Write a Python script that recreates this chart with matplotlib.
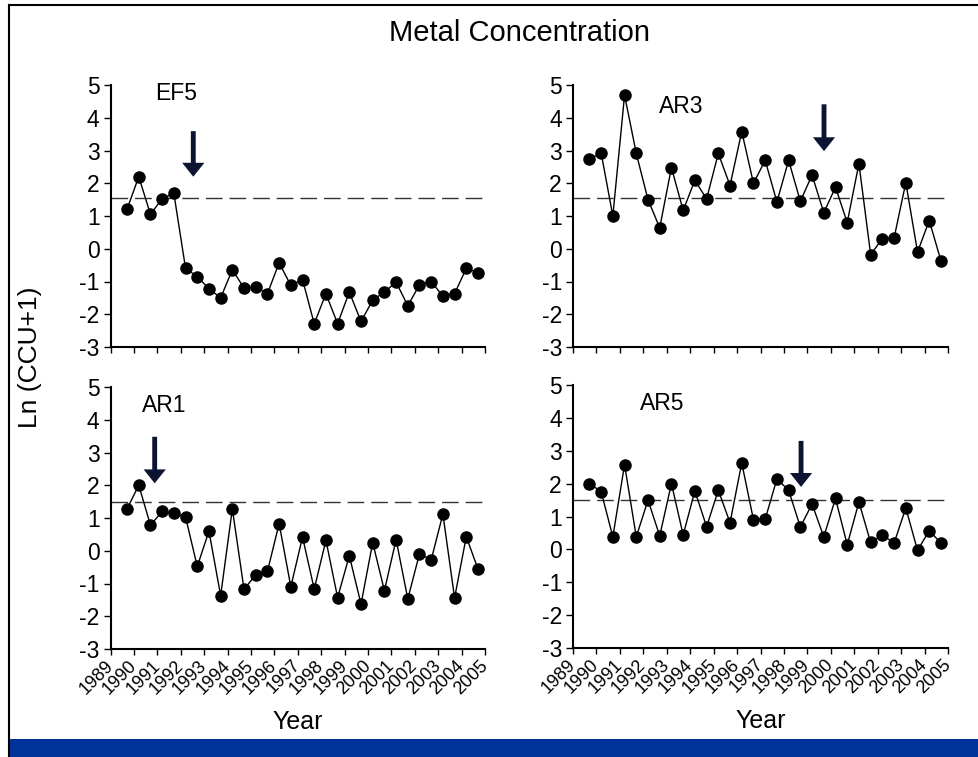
import numpy as np
import matplotlib
matplotlib.use("Agg")
import matplotlib.pyplot as plt
from matplotlib.patches import Rectangle
from matplotlib.lines import Line2D

plt.rcParams['font.family'] = ['Liberation Sans', 'DejaVu Sans']
plt.rcParams['axes.unicode_minus'] = False

# sampling times (two samples per year)
sample_x = [1989.7, 1990.2, 1990.7, 1991.2, 1991.7, 1992.2, 1992.7, 1993.2,
            1993.7, 1994.2, 1994.7, 1995.2, 1995.7, 1996.2, 1996.7, 1997.2,
            1997.7, 1998.2, 1998.7, 1999.2, 1999.7, 2000.2, 2000.7, 2001.2,
            2001.7, 2002.2, 2002.7, 2003.2, 2003.7, 2004.2, 2004.7]
years = list(range(1989, 2006))

ef5 = [1.21, 2.2, 1.05, 1.53, 1.69, -0.6, -0.85, -1.22, -1.5, -0.64, -1.2,
       -1.17, -1.37, -0.43, -1.12, -0.94, -2.29, -1.37, -2.29, -1.32, -2.22,
       -1.57, -1.32, -1.02, -1.74, -1.1, -1.0, -1.45, -1.37, -0.6, -0.73]
ar3 = [2.73, 2.93, 1.0, 4.69, 2.91, 1.5, 0.64, 2.48, 1.17, 2.09, 1.52, 2.91,
       1.93, 3.58, 2.0, 2.7, 1.43, 2.7, 1.45, 2.25, 1.1, 1.88, 0.8, 2.6,
       -0.18, 0.31, 0.33, 2.02, -0.1, 0.86, -0.37]
ar1 = [1.28, 2.0, 0.78, 1.2, 1.15, 1.03, -0.48, 0.6, -1.37, 1.28, -1.18,
       -0.73, -0.63, 0.83, -1.1, 0.42, -1.17, 0.32, -1.43, -0.15, -1.63, 0.25,
       -1.22, 0.34, -1.47, -0.09, -0.28, 1.12, -1.44, 0.43, -0.56]
ar5 = [2.0, 1.76, 0.38, 2.58, 0.38, 1.5, 0.41, 2.0, 0.44, 1.78, 0.69, 1.8,
       0.81, 2.63, 0.9, 0.92, 2.14, 1.8, 0.68, 1.38, 0.38, 1.55, 0.14, 1.44,
       0.21, 0.44, 0.19, 1.26, -0.03, 0.57, 0.19]

sites = ['EF5', 'AR3', 'AR1', 'AR5']
series = [ef5, ar3, ar1, ar5]
thresholds = [1.55, 1.56, 1.48, 1.51]
arrow_x = [1992.53, 1999.71, 1990.88, 1998.73]
arrow_top = [3.59, 4.41, 3.48, 3.3]
arrow_tip = [2.2, 2.98, 2.06, 1.9]

W, H = 979, 757
fig = plt.figure(figsize=(W / 100, H / 100), dpi=100)

# panel boxes in pixels: left, right, top, bottom
boxes = [(110.7, 485, 85, 347), (573, 948, 85, 347),
         (110.7, 485, 387, 649), (573, 948, 385, 648)]
label_pos = [(1990.92, 4.75), (1992.66, 4.34), (1990.32, 4.44), (1991.86, 4.44)]

for i in range(4):
    l, r, t, b = boxes[i]
    ax = fig.add_axes([l / W, 1 - b / H, (r - l) / W, (b - t) / H])
    ax.set_xlim(1989, 2005)
    ax.set_ylim(-3, 5)
    ax.axhline(thresholds[i], color='#333333', lw=1, dashes=(12, 5))
    ax.plot(sample_x, series[i], color='black', lw=1, marker='o',
            markersize=8, markerfacecolor='black', zorder=3, clip_on=False)
    ax.annotate('', xy=(arrow_x[i], arrow_tip[i]),
                xytext=(arrow_x[i], arrow_top[i]),
                arrowprops=dict(width=3.5, headwidth=16, headlength=10,
                                shrink=0, color='#0b1430', lw=0))
    ax.text(label_pos[i][0], label_pos[i][1], sites[i], fontsize=16.5,
            va='center', ha='left')
    for s in ['top', 'right']:
        ax.spines[s].set_visible(False)
    for s in ['left', 'bottom']:
        ax.spines[s].set_linewidth(1.5)
    ax.set_yticks(range(-3, 6))
    ax.set_xticks(years)
    ax.tick_params(axis='y', labelsize=16.5, length=5, width=1, direction='out',
                   pad=3)
    ax.tick_params(axis='x', length=4, width=1, direction='out')
    if i < 2:
        ax.set_xticklabels([])
    else:
        ax.set_xticklabels([str(y) for y in years], rotation=45, ha='right',
                           va='center', rotation_mode='anchor', fontsize=13)
        ax.tick_params(axis='x', pad=6)
        ax.set_xlabel('Year', fontsize=18, labelpad=9)

fig.text(520 / W, 1 - 33 / H, 'Metal Concentration', fontsize=21,
         ha='center', va='center')
fig.text(30 / W, 1 - 357 / H, 'Ln (CCU+1)', fontsize=19, rotation=90,
         ha='center', va='center')

# slide frame and bottom band
fig.add_artist(Line2D([9.3 / W, 1], [1 - 4.5 / H, 1 - 4.5 / H],
                      transform=fig.transFigure, color='black', lw=1.5))
fig.add_artist(Line2D([9.3 / W, 9.3 / W], [1 - 4.5 / H, 0],
                      transform=fig.transFigure, color='black', lw=1.5))
fig.add_artist(Rectangle((9.3 / W, 0), 1, 18.5 / H, transform=fig.transFigure,
                         facecolor='#003399', edgecolor='none'))

fig.savefig('out.png', dpi=100)
